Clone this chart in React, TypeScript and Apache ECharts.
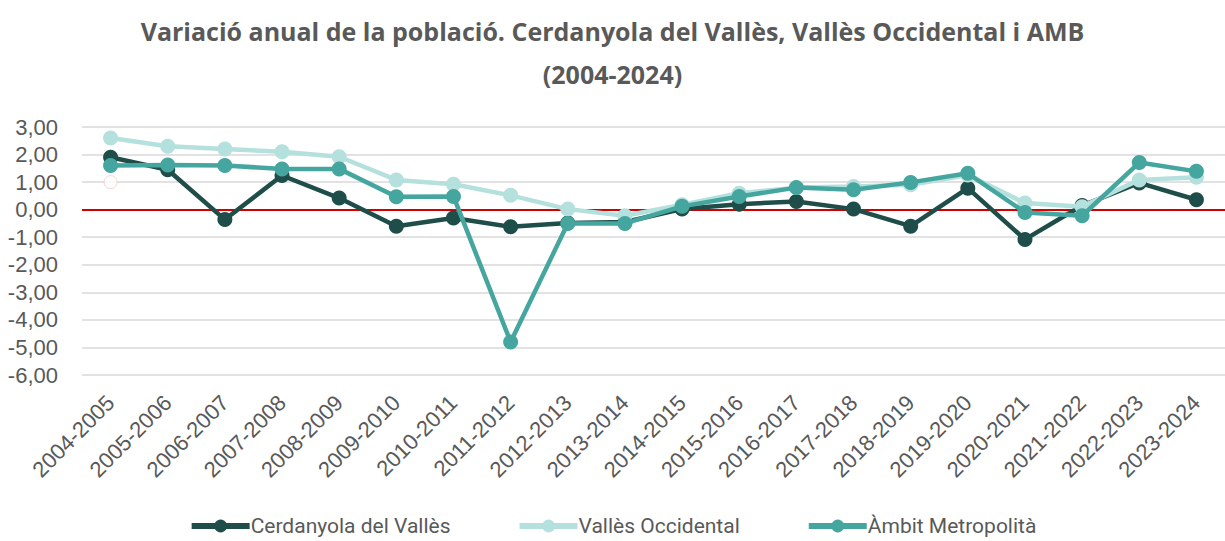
import React, { useEffect, useRef } from "react";
import * as echarts from "echarts";

const titleText = "Variació anual de la població. Cerdanyola del Vallès, Vallès Occidental i AMB\n(2004-2024)";

const categories = [
  "2004-2005", "2005-2006", "2006-2007", "2007-2008", "2008-2009",
  "2009-2010", "2010-2011", "2011-2012", "2012-2013", "2013-2014",
  "2014-2015", "2015-2016", "2016-2017", "2017-2018", "2018-2019",
  "2019-2020", "2020-2021", "2021-2022", "2022-2023", "2023-2024",
];

const cerdanyola = [1.9, 1.45, -0.36, 1.24, 0.42, -0.6, -0.3, -0.62, -0.48, -0.45, 0.02, 0.2, 0.3, 0.02, -0.6, 0.78, -1.08, 0.15, 0.97, 0.36];
const vallesOccidental = [2.6, 2.3, 2.2, 2.1, 1.92, 1.08, 0.92, 0.52, 0.02, -0.22, 0.18, 0.6, 0.8, 0.84, 0.9, 1.26, 0.24, 0.11, 1.08, 1.18];
const ambitMetropolita = [1.6, 1.62, 1.6, 1.48, 1.48, 0.47, 0.48, -4.8, -0.5, -0.5, 0.12, 0.48, 0.8, 0.72, 0.99, 1.32, -0.1, -0.22, 1.71, 1.39];

// stray marker visible in the reference (first category, value 1)
const strayMarker = [[0, 1]];

const seriesNames = ["Cerdanyola del Vallès", "Vallès Occidental", "Àmbit Metropolità"];
const seriesColors = ["#1f4e4a", "#b4e0dd", "#45a6a0"];

const yMin = -6;
const yMax = 3;
const yInterval = 1;

export default function App() {
  const ref = useRef<HTMLDivElement>(null);

  useEffect(() => {
    if (!ref.current) return;
    const chart = echarts.init(ref.current, undefined, { renderer: "svg" });
    const values = [cerdanyola, vallesOccidental, ambitMetropolita];

    const lineSeries = values.map((data, i) => ({
      name: seriesNames[i],
      type: "line",
      data,
      symbol: "circle",
      symbolSize: 15,
      lineStyle: { width: 4.5, color: seriesColors[i] },
      itemStyle: { color: seriesColors[i] },
      z: 3 + i,
      ...(i === 0
        ? {
            markLine: {
              silent: true,
              symbol: "none",
              label: { show: false },
              lineStyle: { color: "#d40000", width: 2, type: "solid" },
              data: [{ yAxis: 0 }],
              z: 1,
            },
          }
        : {}),
    }));

    chart.setOption({
      animation: false,
      backgroundColor: "#ffffff",
      title: {
        text: titleText,
        left: "center",
        top: 4,
        textStyle: {
          fontFamily: "Open Sans",
          fontWeight: "bold",
          fontSize: 25,
          color: "#595959",
          lineHeight: 43,
        },
      },
      legend: {
        data: seriesNames,
        top: 514,
        left: "center",
        padding: 0,
        itemWidth: 58,
        itemHeight: 16,
        itemGap: 66,
        lineStyle: { width: 6 },
        textStyle: {
          fontFamily: "Roboto",
          fontSize: 21,
          lineHeight: 24,
          color: "#595959",
          padding: [0, 0, 0, -4],
        },
      },
      grid: {
        left: 82,
        right: 0,
        top: 127,
        bottom: 166,
        containLabel: false,
      },
      xAxis: {
        type: "category",
        data: categories,
        boundaryGap: true,
        axisLine: { show: false },
        axisTick: { show: false },
        axisLabel: {
          rotate: 45,
          margin: 24,
          interval: 0,
          fontFamily: "Liberation Sans",
          fontSize: 22,
          color: "#595959",
        },
        splitLine: { show: false },
      },
      yAxis: {
        type: "value",
        min: yMin,
        max: yMax,
        interval: yInterval,
        axisLine: { show: false },
        axisTick: { show: false },
        axisLabel: {
          margin: 24,
          fontFamily: "Liberation Sans",
          fontSize: 22,
          color: "#595959",
          formatter: (v: number) => v.toFixed(2).replace(".", ","),
        },
        splitLine: { lineStyle: { color: "#d9d9d9", width: 1.5 } },
      },
      series: [
        ...lineSeries,
        {
          name: "stray",
          type: "scatter",
          data: strayMarker,
          symbol: "circle",
          symbolSize: 13,
          itemStyle: { color: "#ffffff", borderColor: "#f7c6c6", borderWidth: 1 },
          z: 2,
          silent: true,
        },
      ],
    });

    return () => chart.dispose();
  }, []);

  return (
    <div
      ref={ref}
      style={{ position: "fixed", left: 0, top: 0, width: 1225, height: 541 }}
    />
  );
}
